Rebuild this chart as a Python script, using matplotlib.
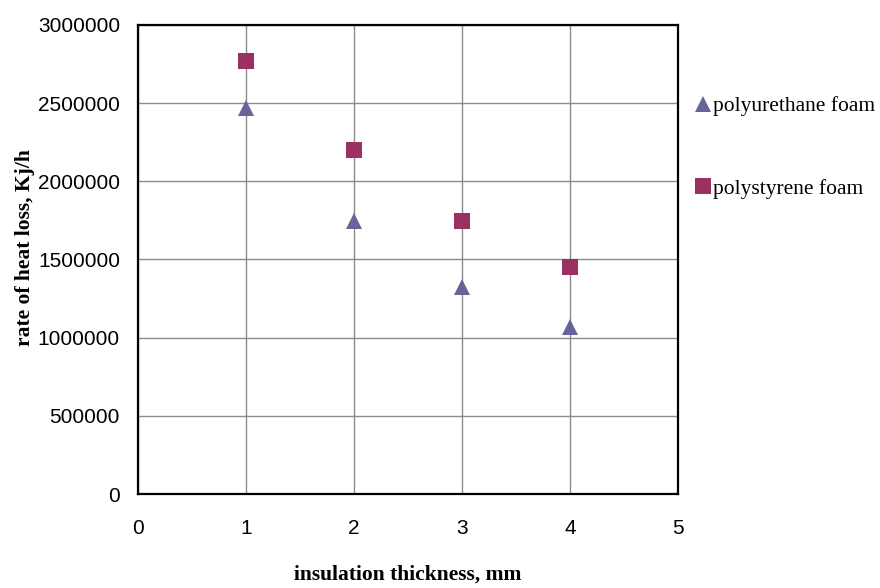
import matplotlib
matplotlib.use("Agg")
import matplotlib.pyplot as plt
from matplotlib.ticker import FormatStrFormatter

# insulation thickness (mm) and heat loss rate (kJ/h) for each foam
thickness = [1, 2, 3, 4]
polyurethane = [2468000, 1747000, 1327000, 1068000]
polystyrene = [2769000, 2198000, 1748000, 1449000]

x_ticks = [0, 1, 2, 3, 4, 5]
y_ticks = [0, 500000, 1000000, 1500000, 2000000, 2500000, 3000000]

fig = plt.figure(figsize=(8.8, 5.88), dpi=100)
ax = fig.add_axes([138 / 880, 94 / 588, 540 / 880, 469 / 588])

ax.plot(thickness, polyurethane, linestyle="none", marker="^", markersize=11.5,
        color="#65659a", markeredgewidth=0, label="polyurethane foam", zorder=3)
ax.plot(thickness, polystyrene, linestyle="none", marker="s", markersize=11.2,
        color="#9b3163", markeredgewidth=0, label="polystyrene foam", zorder=3)

ax.set_xlim(0, 5)
ax.set_ylim(0, 3000000)
ax.set_xticks(x_ticks)
ax.set_yticks(y_ticks)
ax.yaxis.set_major_formatter(FormatStrFormatter("%d"))
ax.grid(True, color="#8c8c8c", linewidth=1)
ax.set_axisbelow(True)

for side in ["left", "right", "top", "bottom"]:
    ax.spines[side].set_color("black")
    ax.spines[side].set_linewidth(1.6)

ax.tick_params(axis="both", length=0, labelsize=15)
ax.tick_params(axis="x", pad=18)
ax.tick_params(axis="y", pad=13)
for lbl in ax.get_xticklabels() + ax.get_yticklabels():
    lbl.set_fontfamily("Liberation Sans")

ax.set_xlabel("insulation thickness, mm", fontfamily="Liberation Serif",
              fontweight="bold", fontsize=15.5, labelpad=19)
ax.set_ylabel("rate of heat loss, Kj/h", fontfamily="Liberation Serif",
              fontweight="bold", fontsize=15.5)
ax.yaxis.set_label_coords(-0.19, 0.5256)

leg = ax.legend(loc="upper left", bbox_to_anchor=(694.4 / 880, 1 - 96 / 588),
                bbox_transform=fig.transFigure, frameon=False,
                prop={"family": "Liberation Serif", "size": 15.5},
                handlelength=0.8, handletextpad=0.08, labelspacing=2.91,
                borderpad=0, borderaxespad=0, markerscale=1.0)

fig.savefig("out.png", dpi=100)
